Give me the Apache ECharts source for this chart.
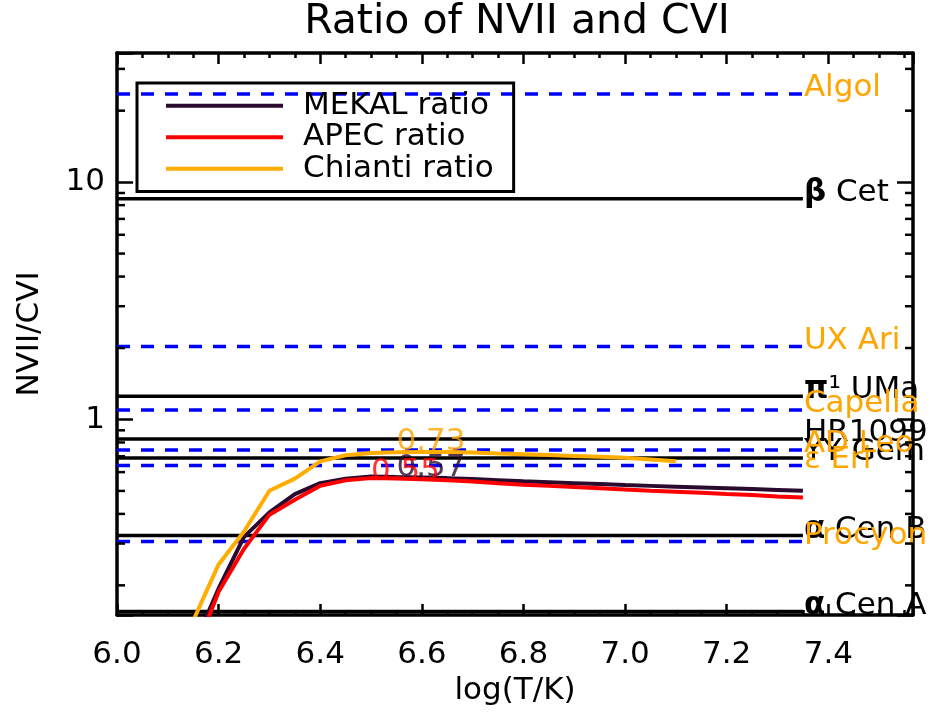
<!DOCTYPE html>
<html>
<head>
<meta charset="utf-8">
<script src="https://cdn.jsdelivr.net/npm/echarts@6/dist/echarts.min.js"></script>
<style>html,body{margin:0;padding:0;background:#fff}#c{width:940px;height:717px}</style>
</head>
<body>
<div id="c"></div>
<script>
// ---------- data ----------
const temps = [6.15,6.20,6.25,6.30,6.35,6.40,6.45,6.50,6.55,6.60,6.65,6.70,6.75,6.80,6.85,6.90,6.95,7.00,7.05,7.10,7.15,7.20,7.25,7.30,7.35];
const mekalRatio = [0.110,0.194,0.320,0.406,0.485,0.539,0.563,0.575,0.572,0.570,0.566,0.561,0.555,0.549,0.544,0.539,0.534,0.529,0.525,0.521,0.517,0.513,0.509,0.505,0.501];
const apecRatio  = [0.100,0.188,0.285,0.397,0.459,0.526,0.554,0.566,0.564,0.560,0.555,0.548,0.538,0.531,0.525,0.519,0.513,0.507,0.501,0.496,0.491,0.485,0.480,0.474,0.469];
const chiantiTemps = [6.15,6.20,6.25,6.30,6.35,6.40,6.45,6.50,6.55,6.60,6.65,6.70,6.75,6.80,6.85,6.90,6.95,7.00,7.05,7.10];
const chiantiRatio = [0.142,0.245,0.337,0.501,0.563,0.666,0.707,0.722,0.728,0.730,0.729,0.725,0.719,0.714,0.708,0.702,0.696,0.689,0.678,0.667];

const solidStars = ['β Cet','π¹ UMa','HR1099','YY Gem','α Cen B','α Cen A'];
const solidValues = [8.51,1.254,0.828,0.688,0.324,0.155];
const dashedStars = ['Algol','UX Ari','Capella','AD Leo','ε Eri','Procyon'];
const dashedValues = [23.5,2.03,1.095,0.744,0.639,0.306];
const refLineX = [6.0, 7.35];

const peakTexts = ['0.73','0.57','0.55'];
const peakX = [6.55,6.55,6.50];
const peakY = [0.73,0.57,0.55];

const xTickLabels = ['6.0','6.2','6.4','6.6','6.8','7.0','7.2','7.4'];
const yTickLabels = ['1','10'];
const yMinorTicks = [0.2,0.3,0.4,0.5,0.6,0.7,0.8,0.9,2,3,4,5,6,7,8,9,20,30];

// ---------- style ----------
const FONT = 'DejaVu Sans';
const FS = 31;
const X_MIN = 6.0, X_MAX = 7.5667, Y_MIN = 0.15, Y_MAX = 35;
const C_MEKAL = '#2a0a2e', C_APEC = '#ff0000', C_CHIANTI = '#ffad00', C_DASH = '#0000ff', C_ORANGE = '#ffa500';
const peakColors = [C_ORANGE, C_MEKAL, C_APEC];

function greek(n){ return n.replace(/([αβπ])/g, '{g|$1}'); }

const series = [];
function addRefs(names, vals, lineColor, dashed, labelColor){
  names.forEach((n,i)=>{
    series.push({
      type:'line', name:n, xAxisIndex:0, yAxisIndex:0,
      data:[[refLineX[0], vals[i]],[refLineX[1], vals[i]]],
      symbol:'circle', symbolSize:0, showSymbol:true,
      lineStyle:{color:lineColor, width:3.5, type: dashed ? [13,11] : 'solid'},
      itemStyle:{color:lineColor},
      label:{show:true, position:'right', distance:1, offset:[0,-6], color:labelColor,
        fontFamily:FONT, fontSize:FS,
        formatter:p => p.dataIndex===1 ? greek(n) : '',
        rich:{g:{fontWeight:'bold', fontFamily:FONT, fontSize:FS, color:labelColor}}},
      emphasis:{disabled:true}, silent:true, z:2
    });
  });
}
addRefs(solidStars, solidValues, '#000000', false, '#000000');
addRefs(dashedStars, dashedValues, C_DASH, true, C_ORANGE);

function curve(name, xs, ys, color){
  return {type:'line', name, xAxisIndex:0, yAxisIndex:0, data: xs.map((x,i)=>[x, ys[i]]),
    symbol:'none', lineStyle:{color, width:4}, itemStyle:{color}, emphasis:{disabled:true}, z:3};
}
series.push(curve('MEKAL ratio', temps, mekalRatio, C_MEKAL));
series.push(curve('APEC ratio', temps, apecRatio, C_APEC));
series.push(curve('Chianti ratio', chiantiTemps, chiantiRatio, C_CHIANTI));

series.push({
  type:'scatter', xAxisIndex:0, yAxisIndex:0, symbolSize:0, silent:true, z:5,
  data: peakX.map((x,i)=>({value:[x, peakY[i]], label:{color:peakColors[i]}})),
  label:{show:true, position:'top', distance:0, align:'left', offset:[0,6],
    fontFamily:FONT, fontSize:FS, formatter:p => peakTexts[p.dataIndex]}
});

// minor ticks on the log axes (left and right)
series.push({
  type:'custom', xAxisIndex:0, yAxisIndex:0, clip:false, silent:true, z:10,
  data: yMinorTicks.map(v=>[X_MIN, v]), encode:{x:0, y:1},
  renderItem:(params, api)=>{
    const v = api.value(1);
    const l = api.coord([X_MIN, v]);
    const r = api.coord([X_MAX, v]);
    return {type:'group', children:[
      {type:'line', shape:{x1:l[0], y1:l[1], x2:l[0]+8, y2:l[1]}, style:{stroke:'#000', lineWidth:2.5}},
      {type:'line', shape:{x1:r[0]-8, y1:r[1], x2:r[0], y2:r[1]}, style:{stroke:'#000', lineWidth:2.5}}
    ]};
  }
});

const axisLineStyle = {show:true, lineStyle:{color:'#000', width:3.5}};
const tickStyle = {color:'#000', width:2.5};
const chart = echarts.init(document.getElementById('c'));
chart.setOption({
  animation:false,
  backgroundColor:'#fff',
  title:{text:'Ratio of NVII and CVI', left:512, textAlign:'center', top:-3,
    textStyle:{fontFamily:FONT, fontSize:41, fontWeight:'normal', color:'#000'}},
  legend:{data:['MEKAL ratio','APEC ratio','Chianti ratio'], orient:'vertical', left:137, top:83,
    padding:[7,20,7,29], itemGap:0, itemWidth:117, itemHeight:4, icon:'rect',
    borderColor:'#000', borderWidth:3, selectedMode:false,
    textStyle:{fontFamily:FONT, fontSize:FS, color:'#000', lineHeight:31.5, padding:[0,0,0,15]}},
  grid:{left:117, right:27, top:53, bottom:102, containLabel:false},
  xAxis:[
    {type:'value', position:'bottom', min:X_MIN, max:X_MAX, interval:0.2,
      axisLine:axisLineStyle, splitLine:{show:false},
      axisTick:{show:true, inside:true, length:11, lineStyle:tickStyle},
      minorTick:{show:true, splitNumber:4, length:5, lineStyle:tickStyle},
      axisLabel:{fontFamily:FONT, fontSize:FS, color:'#000', margin:24,
        formatter:v => { const s = v.toFixed(1); return xTickLabels.includes(s) && v < 7.5 ? s : ''; }},
      name:'log(T/K)', nameLocation:'middle', nameGap:60,
      nameTextStyle:{fontFamily:FONT, fontSize:FS, color:'#000'}},
    {type:'value', position:'top', min:X_MIN, max:X_MAX, interval:0.2,
      axisLine:axisLineStyle, splitLine:{show:false}, axisLabel:{show:false},
      axisTick:{show:true, inside:true, length:11, lineStyle:tickStyle},
      minorTick:{show:true, splitNumber:4, length:5, lineStyle:tickStyle}}
  ],
  yAxis:[
    {type:'log', position:'left', min:Y_MIN, max:Y_MAX, logBase:10,
      axisLine:axisLineStyle, splitLine:{show:false},
      axisTick:{show:true, inside:true, length:16, lineStyle:tickStyle},
      axisLabel:{fontFamily:FONT, fontSize:FS, color:'#000', margin:12,
        formatter:v => { const s = String(Math.round(v*1000)/1000); return yTickLabels.includes(s) ? s : ''; }},
      name:'NVII/CVI', nameLocation:'middle', nameGap:72, nameRotate:90,
      nameTextStyle:{fontFamily:FONT, fontSize:FS, color:'#000'}},
    {type:'log', position:'right', min:Y_MIN, max:Y_MAX, logBase:10,
      axisLine:axisLineStyle, splitLine:{show:false}, axisLabel:{show:false},
      axisTick:{show:true, inside:true, length:16, lineStyle:tickStyle}}
  ],
  series
});
</script>
</body>
</html>
